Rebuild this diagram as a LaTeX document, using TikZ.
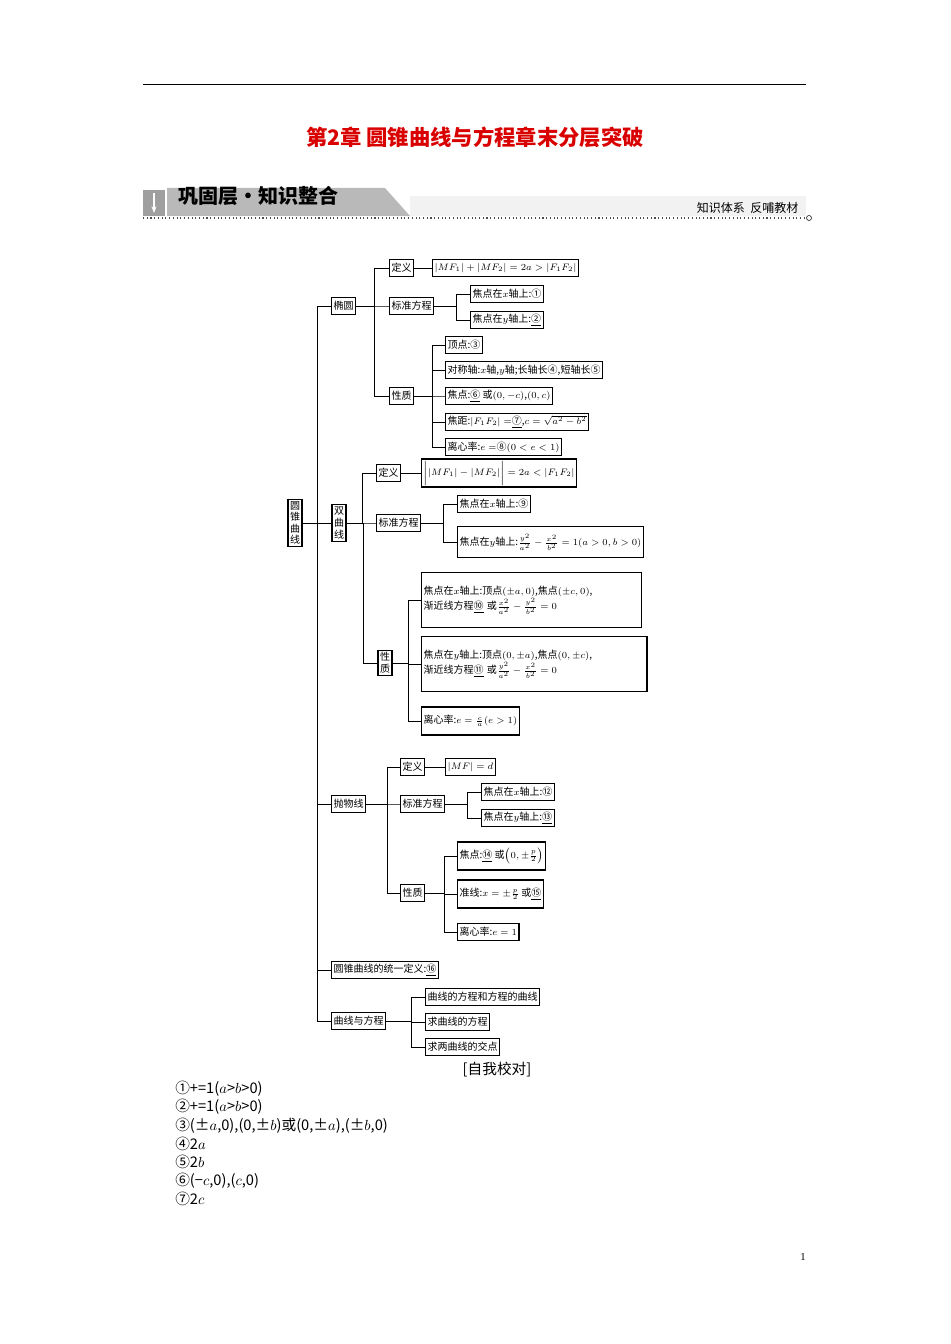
\documentclass[tikz,border=0pt]{standalone}
\usepackage{fontspec}
\usetikzlibrary{arrows.meta}
\setmainfont{Liberation Serif}
\newfontfamily\cjk{Noto Sans CJK SC}
\begin{document}
\begin{tikzpicture}[x=0.75pt,y=-0.75pt,
 bx/.style={draw,line width=0.9pt,anchor=west,inner sep=1.5pt,font=\cjk\fontsize{7.5}{9}\selectfont,minimum height=13pt},
 ln/.style={line width=0.7pt}]
\useasboundingbox (0,0) rectangle (950,1344);
\draw[line width=0.6pt] (143,84) -- (806,84);
\node[text=red!85!black,font=\cjk\bfseries\fontsize{16}{18}\selectfont] (title) at (475,137) {第2章\ 圆锥曲线与方程章末分层突破};
% banner
\fill[gray!75] (143,190) rectangle (165,216);
\fill[gray!55] (167,188) -- (385,188) -- (410,216) -- (167,216) -- cycle;
\draw[white,line width=2pt,-{Stealth[length=5pt]}] (154,193) -- (154,213);
\node[font=\cjk\bfseries\fontsize{15}{17}\selectfont,anchor=west] (bt) at (174,196) {巩固层·知识整合};
\fill[gray!10] (410,196) rectangle (806,216);
\draw[dotted,line width=0.8pt,gray!60!black] (143,218) -- (806,218);
\draw (809,218) circle (2.5);
\node[font=\cjk\fontsize{9}{11}\selectfont,anchor=east] (bs) at (803,208) {知识体系\ \ 反哺教材};
% root
\node[bx,anchor=center,align=center,font=\cjk\fontsize{7.5}{8.5}\selectfont] (root) at (295,523) {圆\\锥\\曲\\线};
\node[bx] (ell) at (331,306) {椭圆};
\node[bx,anchor=center,align=center,font=\cjk\fontsize{7.5}{9}\selectfont] (hyp) at (339,523) {双\\曲\\线};
\node[bx] (par) at (331,804) {抛物线};
\node[bx] (uni) at (331,970) {圆锥曲线的统一定义:\underline{⑯}};
\node[bx] (ce) at (331,1021) {曲线与方程};
\foreach \c in {ell,par,uni,ce} \draw[ln] (\c.west) -- ++(-14,0) |- (root.east);
\draw[ln] (hyp.west) -- (root.east);
% ellipse
\node[bx] (e1) at (389,268) {定义};
\node[bx] (e1f) at (432,268) {$|MF_1|+|MF_2|=2a>|F_1F_2|$};
\node[bx] (e2) at (389,306) {标准方程};
\node[bx] (e2a) at (470,294) {焦点在$x$轴上:①};
\node[bx] (e2b) at (470,320) {焦点在$y$轴上:\underline{②}};
\node[bx] (e3) at (389,396) {性质};
\node[bx] (e3a) at (445,345) {顶点:③};
\node[bx] (e3b) at (445,370) {对称轴:$x$轴,$y$轴;长轴长④,短轴长⑤};
\node[bx] (e3c) at (445,396) {焦点:\underline{⑥} 或$(0,-c)$,$(0,c)$};
\node[bx] (e3d) at (445,422) {焦距:$|F_1F_2|=$\underline{⑦},$c=\sqrt{a^2-b^2}$};
\node[bx] (e3e) at (445,447) {离心率:$e=$⑧$(0<e<1)$};
\foreach \c in {e1,e2,e3} \draw[ln] (\c.west) -- ++(-15,0) |- (ell.east);
\draw[ln] (e1.east) -- (e1f.west);
\foreach \c in {e2a,e2b} \draw[ln] (\c.west) -- ++(-14,0) |- (e2.east);
\foreach \c in {e3a,e3b,e3c,e3d,e3e} \draw[ln] (\c.west) -- ++(-13,0) |- (e3.east);
% hyperbola
\node[bx] (h1) at (376,473) {定义};
\node[bx] (h1f) at (421,473) {$\bigl||MF_1|-|MF_2|\bigr|=2a<|F_1F_2|$};
\node[bx] (h2) at (376,523) {标准方程};
\node[bx] (h2a) at (457,504) {焦点在$x$轴上:⑨};
\node[bx,minimum height=23pt] (h2b) at (457,542) {焦点在$y$轴上:$\frac{y^2}{a^2}-\frac{x^2}{b^2}=1(a>0,b>0)$};
\node[bx,anchor=center,align=center] (h3) at (385,663) {性\\质};
\node[bx,align=left,text width=162pt,minimum height=41pt] (h3a) at (421,600) {焦点在$x$轴上:顶点$(\pm a,0)$,焦点$(\pm c,0)$,\\渐近线方程\underline{⑩} 或$\frac{x^2}{a^2}-\frac{y^2}{b^2}=0$};
\node[bx,align=left,text width=166pt,minimum height=41pt] (h3b) at (421,664) {焦点在$y$轴上:顶点$(0,\pm a)$,焦点$(0,\pm c)$,\\渐近线方程\underline{⑪} 或$\frac{y^2}{a^2}-\frac{x^2}{b^2}=0$};
\node[bx,minimum height=21pt] (h3c) at (421,721) {离心率:$e=\frac{c}{a}(e>1)$};
\foreach \c in {h1,h2,h3} \draw[ln] (\c.west) -- ++(-14,0) |- (hyp.east);
\draw[ln] (h1.east) -- (h1f.west);
\foreach \c in {h2a,h2b} \draw[ln] (\c.west) -- ++(-14,0) |- (h2.east);
\foreach \c in {h3a,h3b,h3c} \draw[ln] (\c.west) -- ++(-13,0) |- (h3.east);
% parabola
\node[bx] (p1) at (400,767) {定义};
\node[bx] (p1f) at (445,767) {$|MF|=d$};
\node[bx] (p2) at (400,804) {标准方程};
\node[bx] (p2a) at (481,792) {焦点在$x$轴上:⑫};
\node[bx] (p2b) at (481,818) {焦点在$y$轴上:\underline{⑬}};
\node[bx] (p3) at (400,893) {性质};
\node[bx,minimum height=21pt] (p3a) at (457,856) {焦点:\underline{⑭} 或$\left(0,\pm\frac{p}{2}\right)$};
\node[bx,minimum height=21pt] (p3b) at (457,894) {准线:$x=\pm\frac{p}{2}$ 或\underline{⑮}};
\node[bx] (p3c) at (457,932) {离心率:$e=1$};
\foreach \c in {p1,p2,p3} \draw[ln] (\c.west) -- ++(-13,0) |- (par.east);
\draw[ln] (p1.east) -- (p1f.west);
\foreach \c in {p2a,p2b} \draw[ln] (\c.west) -- ++(-14,0) |- (p2.east);
\foreach \c in {p3a,p3b,p3c} \draw[ln] (\c.west) -- ++(-13,0) |- (p3.east);
% curve & equation
\node[bx] (c1) at (425,997) {曲线的方程和方程的曲线};
\node[bx] (c2) at (425,1022) {求曲线的方程};
\node[bx] (c3) at (425,1047) {求两曲线的交点};
\foreach \c in {c1,c2,c3} \draw[ln] (\c.west) -- ++(-14,0) |- (ce.east);
% answers
\node[font=\cjk\fontsize{11}{13}\selectfont] (zw) at (497,1070) {[自我校对]};
\begin{scope}[every node/.style={anchor=west,font=\cjk\fontsize{11}{13}\selectfont,inner sep=0pt}]
\node (a1) at (175,1089) {①+=1($a$>$b$>0)};
\node (a2) at (175,1107) {②+=1($a$>$b$>0)};
\node (a3) at (175,1126) {③(±$a$,0),(0,±$b$)或(0,±$a$),(±$b$,0)};
\node (a4) at (175,1144) {④2$a$};
\node (a5) at (175,1162) {⑤2$b$};
\node (a6) at (175,1181) {⑥(−$c$,0),($c$,0)};
\node (a7) at (175,1199) {⑦2$c$};
\end{scope}
\node[font=\fontsize{8}{10}\selectfont] (pg) at (803,1257) {1};
\end{tikzpicture}
\end{document}
